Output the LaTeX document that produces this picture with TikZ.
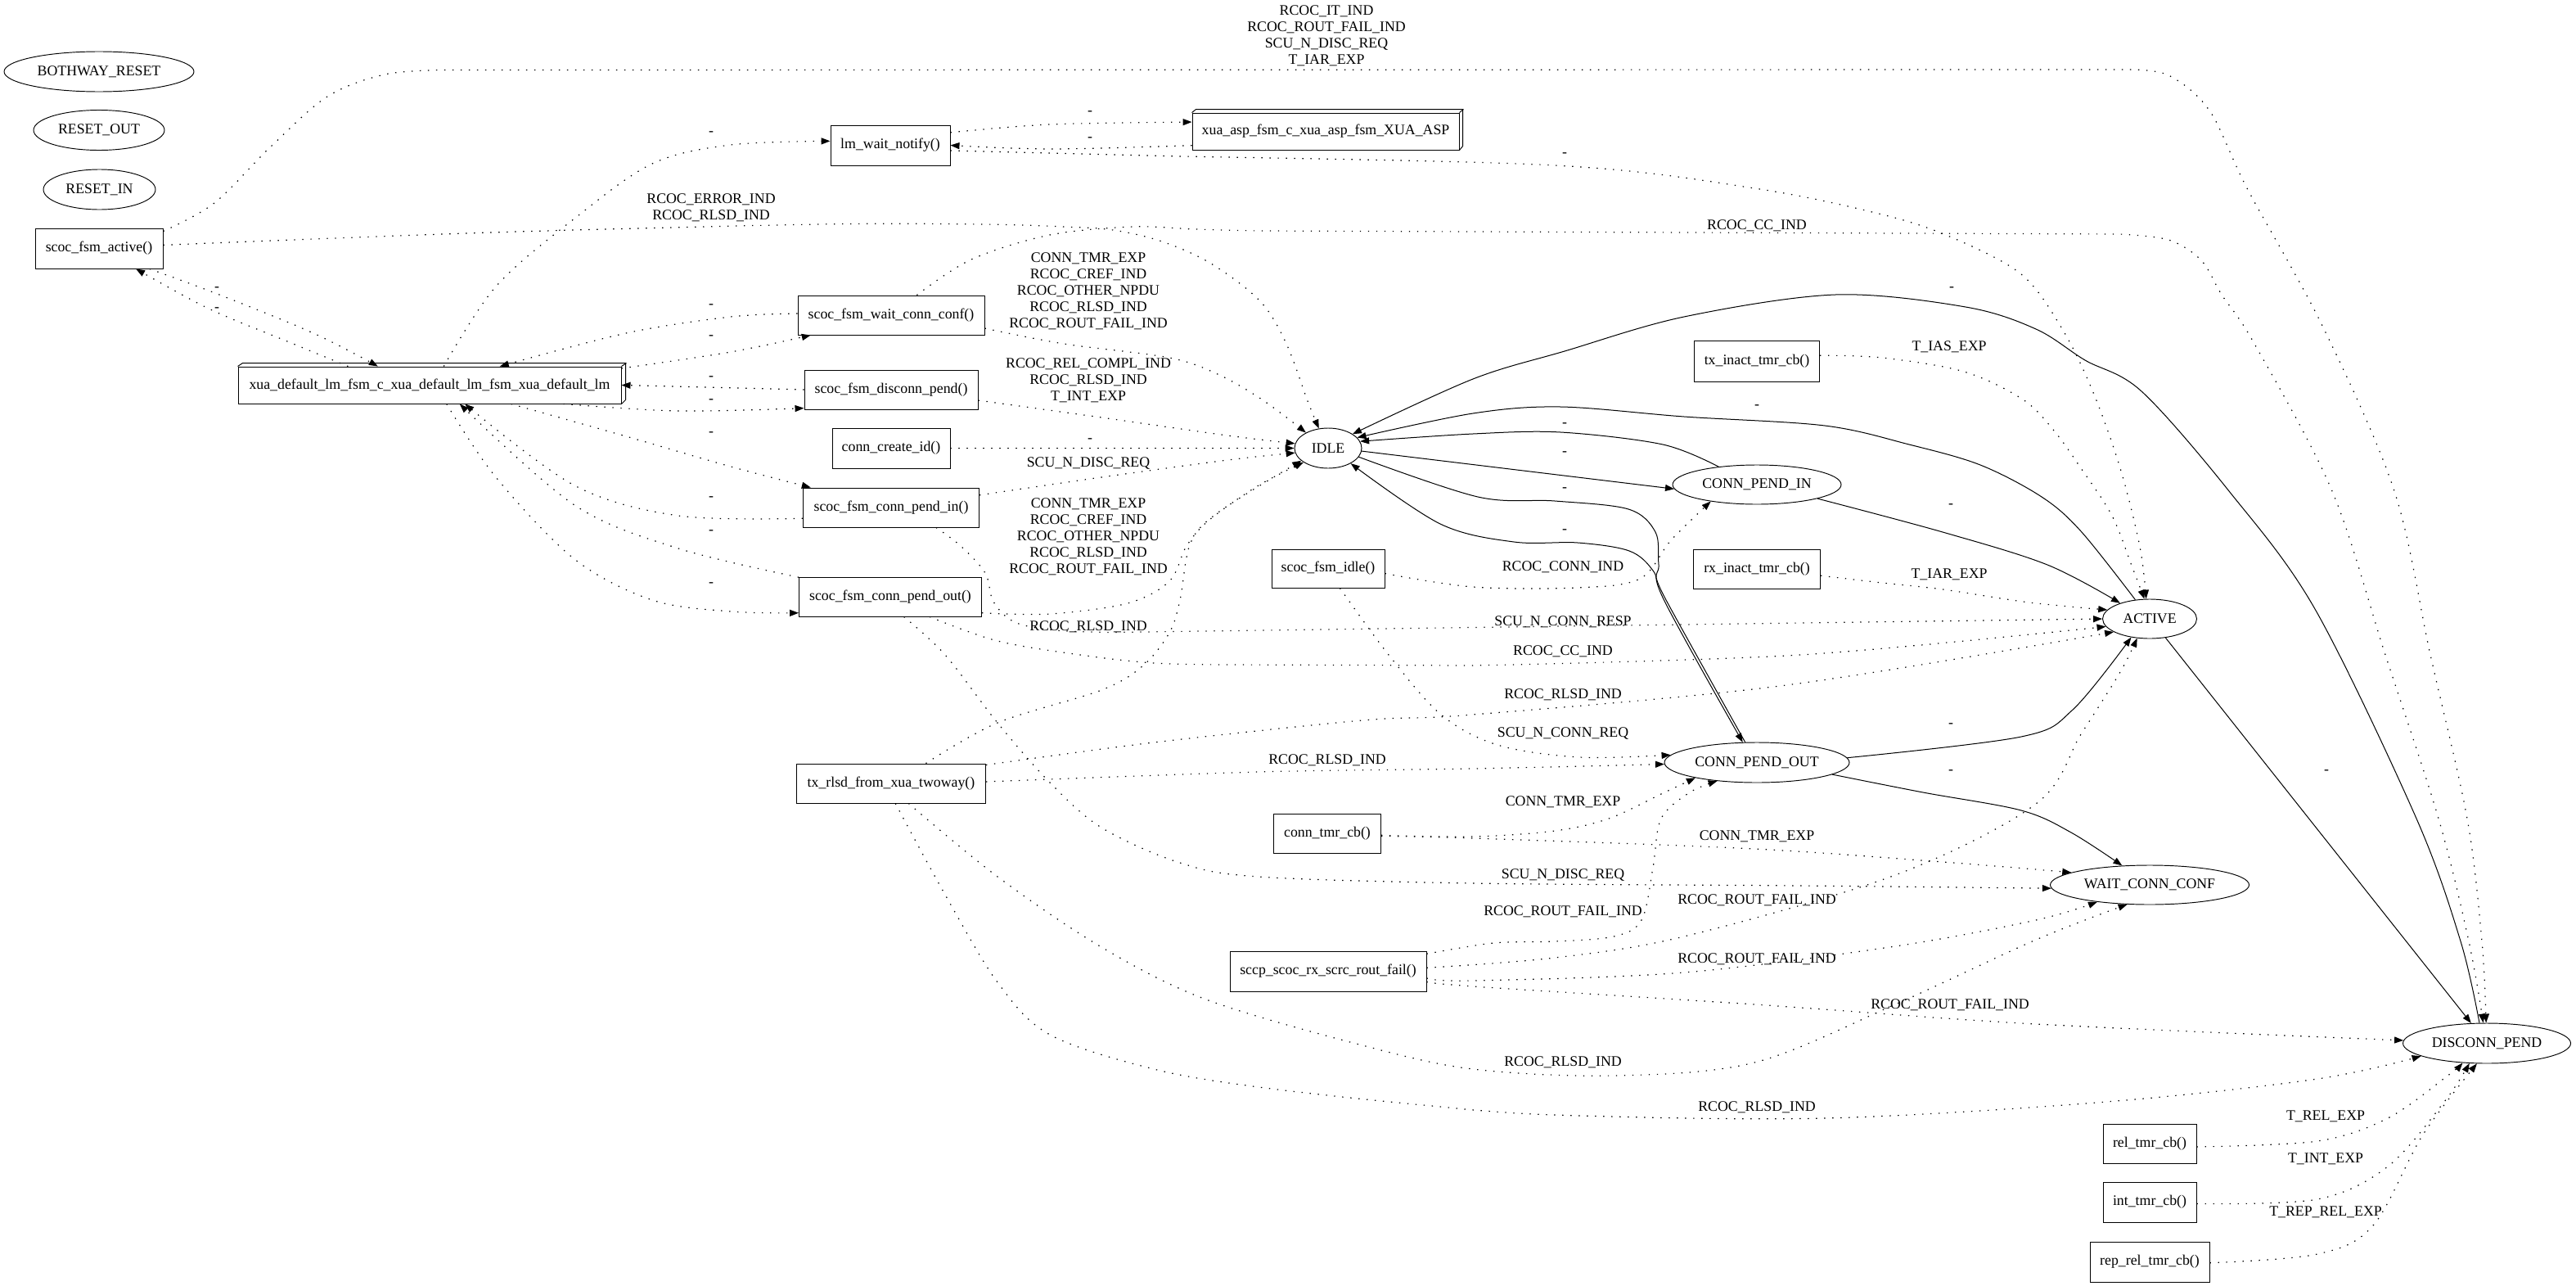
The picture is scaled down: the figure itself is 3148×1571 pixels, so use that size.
\documentclass[tikz,border=0pt]{standalone}
\usepackage{fontspec}
\setmainfont{Liberation Serif}
\usetikzlibrary{arrows.meta,shapes.geometric,calc}
\begin{document}
\begin{tikzpicture}[x=1pt,y=-1pt,
  font=\fontsize{17.8}{20}\selectfont,
  lbl/.style={inner sep=0pt, align=center},
  fbox/.style={draw, rectangle, line width=0.95pt, inner sep=0pt, minimum height=48pt},
  bthree/.style={draw, rectangle, line width=0.95pt, inner sep=0pt, minimum height=45pt},
  st/.style={draw, ellipse, line width=0.95pt, inner sep=0pt, minimum height=49pt},
  dl/.style={line width=1.2pt, dash pattern=on 1.4pt off 8.6pt, -{Triangle[length=11pt,width=8pt]}},
  sl/.style={line width=1pt, -{Triangle[length=11pt,width=8pt]}},
  pl/.style={smooth, tension=0.55}
]
\fill[white] (0,0) rectangle (3148,1571);
\useasboundingbox (0,0) rectangle (3148,1571);

% ---------- nodes ----------
\node[st, minimum width=232pt] (bw) at (121,87.5) {BOTHWAY\_RESET};
\node[st, minimum width=160pt] (ro) at (121,159) {RESET\_OUT};
\node[st, minimum width=137pt] (ri) at (121.5,231.5) {RESET\_IN};
\node[fbox, minimum width=156pt, minimum height=49pt] (actf) at (121,303.5) {scoc\_fsm\_active()};
\node[bthree, minimum width=468pt] (xua) at (525,470.5) {xua\_default\_lm\_fsm\_c\_xua\_default\_lm\_fsm\_xua\_default\_lm};
\draw[line width=0.95pt] (xua.north west) -- ++(6,-4) -- ++(468,0) -- ++(0,45) -- (xua.south east);
\draw[line width=0.95pt] (xua.north east) -- ++(6,-4);
\node[fbox, minimum width=146pt, minimum height=49pt] (lmw) at (1088,177.5) {lm\_wait\_notify()};
\node[bthree, minimum width=326pt] (asp) at (1620,160.5) {xua\_asp\_fsm\_c\_xua\_asp\_fsm\_XUA\_ASP};
\draw[line width=0.95pt] (asp.north west) -- ++(5,-4) -- ++(326,0) -- ++(0,45) -- (asp.south east);
\draw[line width=0.95pt] (asp.north east) -- ++(5,-4);
\node[fbox, minimum width=228pt] (wccf) at (1089,385) {scoc\_fsm\_wait\_conn\_conf()};
\node[fbox, minimum width=212pt] (dpf) at (1089,476) {scoc\_fsm\_disconn\_pend()};
\node[fbox, minimum width=144pt, minimum height=49pt] (cci) at (1089,547.5) {conn\_create\_id()};
\node[fbox, minimum width=215pt] (cpif) at (1089,620) {scoc\_fsm\_conn\_pend\_in()};
\node[fbox, minimum width=223pt] (cpof) at (1088,729) {scoc\_fsm\_conn\_pend\_out()};
\node[fbox, minimum width=231pt] (txrf) at (1089,957) {tx\_rlsd\_from\_xua\_twoway()};
\node[fbox, minimum width=138pt, minimum height=47pt] (idlef) at (1623,694.5) {scoc\_fsm\_idle()};
\node[fbox, minimum width=131pt] (ctc) at (1622,1018) {conn\_tmr\_cb()};
\node[fbox, minimum width=240pt, minimum height=49pt] (rf) at (1623,1186.5) {sccp\_scoc\_rx\_scrc\_rout\_fail()};
\node[fbox, minimum width=153pt, minimum height=50pt] (tia) at (2147,441) {tx\_inact\_tmr\_cb()};
\node[fbox, minimum width=155pt] (ria) at (2147,695) {rx\_inact\_tmr\_cb()};
\node[fbox, minimum width=114pt] (rel) at (2627,1397) {rel\_tmr\_cb()};
\node[fbox, minimum width=114pt, minimum height=49pt] (intt) at (2627,1468.5) {int\_tmr\_cb()};
\node[fbox, minimum width=146pt, minimum height=49pt] (rep) at (2627,1541.5) {rep\_rel\_tmr\_cb()};

\node[st, minimum width=82pt] (sIdle) at (1623,547.5) {IDLE};
\node[st, minimum width=206pt, minimum height=48pt] (CPI) at (2147,592) {CONN\_PEND\_IN};
\node[st, minimum width=115pt, minimum height=48pt] (ACT) at (2627,756) {ACTIVE};
\node[st, minimum width=226pt] (CPO) at (2147,931.5) {CONN\_PEND\_OUT};
\node[st, minimum width=243pt, minimum height=48pt] (WCC) at (2627,1081) {WAIT\_CONN\_CONF};
\node[st, minimum width=205pt] (DP) at (3039,1274.5) {DISCONN\_PEND};

% ---------- dotted edges ----------
\draw[dl] plot[pl] coordinates {(actf.15) (262,248) (330,180) (400,118) (470,91) (540,85.5)} -- plot[pl] coordinates {(2600,85) (2650,92) (2700,135) (2746,230) (2839,400) (2926,600) (2970,800) (3015,1000) (3033,1150) (DP.92)};
\draw[dl] plot[pl] coordinates {(actf.3) (600,284) (1000,274) (1200,274) (1300,277) (1360,281) (1420,295) (1480,322) (1540,368) (1572,420) (1598,490) (sIdle.115)};
\draw[dl] plot[pl] coordinates {(wccf.38) (1187,317) (1283,287) (1385,277) (1460,280) (1538,282)} -- plot[pl] coordinates {(2590,286) (2650,293) (2690,318) (2715,360) (2755,420) (2850,600) (2915,800) (2980,1000) (3017,1150) (DP.100)};
\draw[dl] plot[pl] coordinates {(lmw.-5) (1400,190) (1900,202) (2144,230) (2300,262) (2385,290) (2470,335) (2519,400) (2557,477) (2591,572) (2615,668) (ACT.100)};
\draw[dl] plot[pl] coordinates {(tia.5) (2300,437) (2400,454) (2472,488) (2510,526) (2543,572) (2581,630) (2605,691) (ACT.105)};
\draw[dl] plot[pl] coordinates {(ria.-6) (2300,712) (2374,720) (2480,736) (ACT.168)};
\draw[dl] plot[pl] coordinates {(wccf.-8) (1300,420) (1429,437) (1490,458) (1545,490) (sIdle.145)};
\draw[dl] plot[pl] coordinates {(dpf.-7) (1346,510) (1500,532) (sIdle.172)};
\draw[dl] (cci) -- (sIdle);
\draw[dl] plot[pl] coordinates {(cpif.8) (1346,583) (1500,562) (sIdle.188)};
\draw[dl] plot[pl] coordinates {(cpof.-10) (1283,750) (1378,737) (1429,710) (1450,667) (1478,635) (1538,593) (sIdle.210)};
\draw[dl] plot[pl] coordinates {(txrf.30) (1219,883) (1346,843) (1397,813) (1429,773) (1442,733) (1455,663) (1490,625) (sIdle.205)};
\draw[dl] plot[pl] coordinates {(cpif.-24) (1174,667) (1204,700) (1214,735) (1240,760) (1290,770) (1360,772.5)} -- (ACT.180);
\draw[dl] plot[pl] coordinates {(cpof.-27) (1219,783) (1320,800) (1410,810) (1500,812)} -- plot[pl] coordinates {(1800,813) (2200,800) (ACT.190)};
\draw[dl] plot[pl] coordinates {(cpof.-56) (1155,800) (1219,883) (1283,956) (1346,1011) (1442,1054) (1538,1071) (1800,1079) (2200,1082) (WCC.182)};
\draw[dl] plot[pl] coordinates {(txrf.11) (1410,907) (1665,880) (1800,873) (2183,837) (ACT.200)};
\draw[dl] plot[pl] coordinates {(txrf.1) (1538,943) (1800,939) (CPO.181)};
\draw[dl] plot[pl] coordinates {(txrf.-49) (1219,1071) (1346,1157) (1474,1221) (1665,1277) (1800,1306) (1972,1314) (2144,1298) (2316,1227) (2488,1148) (WCC.221)};
\draw[dl] plot[pl] coordinates {(txrf.-78) (1155,1093) (1219,1200) (1283,1264) (1410,1306) (1538,1328) (1729,1349) (1900,1362) (2230,1366) (2574,1346) (2832,1318) (DP.191)};
\draw[dl] plot[pl] coordinates {(idlef.-5) (1800,717) (1928,718) (2004,707) (2042,660) (CPI.200)};
\draw[dl] plot[pl] coordinates {(idlef.-59) (1697,800) (1761,873) (1830,910) (1930,925) (CPO.175)};
\draw[dl] plot[pl] coordinates {(ctc.-2) (1800,1022) (1900,1015) (1966,1000) (2030,970) (CPO.194)};
\draw[dl] plot[pl] coordinates {(ctc.-3) (1800,1024) (2144,1037) (2400,1055) (WCC.171)};
\draw[dl] plot[pl] coordinates {(rf.10) (1825,1152) (1900,1150) (1972,1144) (2006,1124) (2020,1060) (2030,1000) (2065,968) (CPO.205)};
\draw[dl] plot[pl] coordinates {(rf.2) (1900,1170) (2058,1144) (2316,1069) (2488,982) (2543,897) (2591,821) (ACT.237)};
\draw[dl] plot[pl] coordinates {(rf.-4) (1800,1198) (2058,1188) (2316,1156) (2488,1124) (WCC.198)};
\draw[dl] plot[pl] coordinates {(rf.-6) (1800,1205) (2144,1227) (2488,1251) (DP.178)};
\draw[dl] plot[pl] coordinates {(rel.-4) (2832,1394) (2918,1366) (2990,1315) (DP.219)};
\draw[dl] plot[pl] coordinates {(intt.-2) (2832,1465) (2918,1425) (2987,1346) (DP.229)};
\draw[dl] plot[pl] coordinates {(rep.-1) (2832,1532) (2900,1497) (2961,1386) (DP.244)};

% left cluster
\draw[dl] plot[pl] coordinates {(xua.167) (351,417) (255,377) (actf.-29)};
\draw[dl] plot[pl] coordinates {(actf.-22) (268,360) (383,407) (xua.160)};
\draw[dl] plot[pl] coordinates {(xua.53) (606,350) (702,267) (797,200) (893,177) (lmw.176)};
\draw[dl] plot[pl] coordinates {(wccf.179) (893,387) (765,407) (xua.15)};
\draw[dl] plot[pl] coordinates {(xua.5) (893,430) (wccf.194)};
\draw[dl] (dpf.west) -- (xua.east);
\draw[dl] plot[pl] coordinates {(xua.-8) (829,502) (dpf.192)};
\draw[dl] plot[pl] coordinates {(xua.-13) (765,533) (893,570) (cpif.166)};
\draw[dl] plot[pl] coordinates {(cpif.187) (829,630) (702,593) (xua.-28)};
\draw[dl] plot[pl] coordinates {(cpof.168) (829,670) (702,617) (xua.-32)};
\draw[dl] plot[pl] coordinates {(xua.-48) (606,583) (702,683) (797,733) (893,747) (cpof.190)};
\draw[dl] plot[pl] coordinates {(lmw.12) (1283,152) (asp.176)};
\draw[dl] plot[pl] coordinates {(asp.186) (1283,182) (lmw.0)};

% ---------- solid edges ----------
\draw[sl] (sIdle.-5) -- (CPI.183);
\draw[sl] plot[pl] coordinates {(CPI.155) (2032,543) (1907,528) (1800,530) (sIdle.12)};
\draw[sl] plot[pl] coordinates {(ACT.127) (2543,649) (2495,607) (2420,568) (2333,543) (2230,520) (2058,509) (1907,497) (1800,505) (sIdle.20)};
\draw[sl] plot[pl] coordinates {(DP.110) (3007,1150) (2953,1000) (2829,744) (2724,600) (2617,478) (2548,440) (2488,402) (2402,375) (2243,360) (2058,387) (1912,429) (1800,463) (sIdle.30)};
\draw[sl] plot[pl] coordinates {(sIdle.-16) (1806,607) (1900,612) (1990,622) (2023,650) (2027,690) (2032,730) (CPO.125)};
\draw[sl] plot[pl] coordinates {(CPO.120) (2036,733) (2020,697) (1991,673) (1928,663) (1850,662) (1760,640) (sIdle.-34)};
\draw[sl] plot[pl] coordinates {(CPI.-13) (2374,650) (2502,690) (ACT.152)};
\draw[sl] plot[pl] coordinates {(CPO.3) (2470,900) (2533,867) (ACT.225)};
\draw[sl] plot[pl] coordinates {(CPO.-9) (2350,968) (2470,990) (2531,1017) (WCC.145)};
\draw[sl] (ACT.-50) -- (DP.128);

% ---------- labels ----------
\node[lbl] (t1) at (1621,44) {RCOC\_IT\_IND\\RCOC\_ROUT\_FAIL\_IND\\SCU\_N\_DISC\_REQ\\T\_IAR\_EXP};
\node[lbl] (t2) at (869,254) {RCOC\_ERROR\_IND\\RCOC\_RLSD\_IND};
\node[lbl] (t3) at (2147,276) {RCOC\_CC\_IND};
\node[lbl] (t4) at (1330,356) {CONN\_TMR\_EXP\\RCOC\_CREF\_IND\\RCOC\_OTHER\_NPDU\\RCOC\_RLSD\_IND\\RCOC\_ROUT\_FAIL\_IND};
\node[lbl] (t5) at (1330,465) {RCOC\_REL\_COMPL\_IND\\RCOC\_RLSD\_IND\\T\_INT\_EXP};
\node[lbl] (t6) at (1330,566) {SCU\_N\_DISC\_REQ};
\node[lbl] (t7) at (1330,656) {CONN\_TMR\_EXP\\RCOC\_CREF\_IND\\RCOC\_OTHER\_NPDU\\RCOC\_RLSD\_IND\\RCOC\_ROUT\_FAIL\_IND};
\node[lbl] (t8) at (1330,766) {RCOC\_RLSD\_IND};
\node[lbl] (t9) at (2382,424) {T\_IAS\_EXP};
\node[lbl] (t10) at (2382,702) {T\_IAR\_EXP};
\node[lbl] (t11) at (1910,693) {RCOC\_CONN\_IND};
\node[lbl] (t12) at (1910,760) {SCU\_N\_CONN\_RESP};
\node[lbl] (t13) at (1910,796) {RCOC\_CC\_IND};
\node[lbl] (t14) at (1910,849) {RCOC\_RLSD\_IND};
\node[lbl] (t15) at (1910,896) {SCU\_N\_CONN\_REQ};
\node[lbl] (t16) at (1622,929) {RCOC\_RLSD\_IND};
\node[lbl] (t17) at (1910,980) {CONN\_TMR\_EXP};
\node[lbl] (t18) at (2147,1022) {CONN\_TMR\_EXP};
\node[lbl] (t19) at (1910,1069) {SCU\_N\_DISC\_REQ};
\node[lbl] (t20) at (2147,1100) {RCOC\_ROUT\_FAIL\_IND};
\node[lbl] (t21) at (1910,1114) {RCOC\_ROUT\_FAIL\_IND};
\node[lbl] (t22) at (2147,1172) {RCOC\_ROUT\_FAIL\_IND};
\node[lbl] (t23) at (2383,1228) {RCOC\_ROUT\_FAIL\_IND};
\node[lbl] (t24) at (1910,1298) {RCOC\_RLSD\_IND};
\node[lbl] (t25) at (2147,1353) {RCOC\_RLSD\_IND};
\node[lbl] (t26) at (2842,1364) {T\_REL\_EXP};
\node[lbl] (t27) at (2842,1416) {T\_INT\_EXP};
\node[lbl] (t28) at (2842,1481) {T\_REP\_REL\_EXP};

\node[lbl] (m1) at (869,163) {-};
\node[lbl] (m2) at (265,353) {-};
\node[lbl] (m3) at (265,378) {-};
\node[lbl] (m4) at (869,374) {-};
\node[lbl] (m5) at (869,412) {-};
\node[lbl] (m6) at (869,462) {-};
\node[lbl] (m7) at (869,490) {-};
\node[lbl] (m8) at (869,530) {-};
\node[lbl] (m9) at (869,609) {-};
\node[lbl] (m10) at (869,650) {-};
\node[lbl] (m11) at (869,714) {-};
\node[lbl] (m12) at (1332,138) {-};
\node[lbl] (m13) at (1332,170) {-};
\node[lbl] (m14) at (1332,538) {-};
\node[lbl] (m15) at (1912,189) {-};
\node[lbl] (m16) at (1912,519) {-};
\node[lbl] (m17) at (1912,554) {-};
\node[lbl] (m18) at (1912,598) {-};
\node[lbl] (m19) at (1912,649) {-};
\node[lbl] (m20) at (2147,497) {-};
\node[lbl] (m21) at (2385,353) {-};
\node[lbl] (m22) at (2384,618) {-};
\node[lbl] (m23) at (2384,886) {-};
\node[lbl] (m24) at (2384,943) {-};
\node[lbl] (m25) at (2843,943) {-};
\end{tikzpicture}
\end{document}
